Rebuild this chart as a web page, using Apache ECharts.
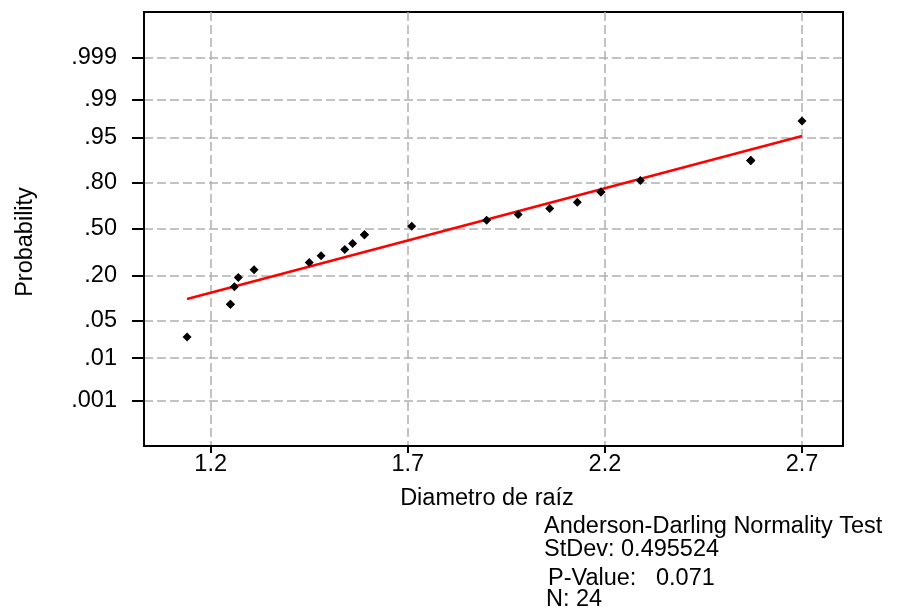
<!DOCTYPE html>
<html>
<head>
<meta charset="utf-8">
<script src="https://cdn.jsdelivr.net/npm/echarts@6/dist/echarts.min.js"></script>
<style>
  html, body { margin: 0; padding: 0; background: #fff; }
  #chart { width: 900px; height: 616px; }
</style>
</head>
<body>
<div id="chart"></div>
<script>
// Root diameter measurements (n = 24)
const diametro = [1.14, 1.25, 1.25, 1.26, 1.27, 1.31, 1.45, 1.48, 1.54, 1.56, 1.59, 1.59,
                  1.71, 1.90, 1.98, 2.06, 2.13, 2.19, 2.19, 2.29, 2.57, 2.57, 2.57, 2.70];

// Probability scale ticks
const probTicks  = [0.001, 0.01, 0.05, 0.20, 0.50, 0.80, 0.95, 0.99, 0.999];
const probLabels = ['.001', '.01', '.05', '.20', '.50', '.80', '.95', '.99', '.999'];

// Diameter ticks
const xTicks = [1.2, 1.7, 2.2, 2.7];

// Fitted normal line endpoints (diameter, cumulative probability)
const fitX    = [1.14, 2.70];
const fitProb = [0.1036, 0.9531];

// Summary statistics
const statLines = ['Anderson-Darling Normality Test', 'StDev: 0.495524', 'P-Value:   0.071', 'N: 24'];

// Inverse standard normal CDF (Acklam's rational approximation)
function invNorm(p) {
  const a = [-3.969683028665376e+01, 2.209460984245205e+02, -2.759285104469687e+02, 1.383577518672690e+02, -3.066479806614716e+01, 2.506628277459239e+00];
  const b = [-5.447609879822406e+01, 1.615858368580409e+02, -1.556989798598866e+02, 6.680131188771972e+01, -1.328068155288572e+01];
  const c = [-7.784894002430293e-03, -3.223964580411365e-01, -2.400758277161838e+00, -2.549732539343734e+00, 4.374664141464968e+00, 2.938163982698783e+00];
  const d = [7.784695709041462e-03, 3.224671290700398e-01, 2.445134137142996e+00, 3.754408661907416e+00];
  const pl = 0.02425, ph = 1 - pl;
  let q, r;
  if (p < pl) {
    q = Math.sqrt(-2 * Math.log(p));
    return (((((c[0]*q+c[1])*q+c[2])*q+c[3])*q+c[4])*q+c[5]) / ((((d[0]*q+d[1])*q+d[2])*q+d[3])*q+1);
  }
  if (p > ph) {
    q = Math.sqrt(-2 * Math.log(1 - p));
    return -(((((c[0]*q+c[1])*q+c[2])*q+c[3])*q+c[4])*q+c[5]) / ((((d[0]*q+d[1])*q+d[2])*q+d[3])*q+1);
  }
  q = p - 0.5; r = q * q;
  return (((((a[0]*r+a[1])*r+a[2])*r+a[3])*r+a[4])*r+a[5])*q / (((((b[0]*r+b[1])*r+b[2])*r+b[3])*r+b[4])*r+1);
}

// Plotting positions: (rank - 3/8) / (n + 1/4), tied values share the mean rank
const sorted = diametro.slice().sort((u, v) => u - v);
const n = sorted.length;
const points = [];
for (let i = 0; i < n; ) {
  let j = i;
  while (j + 1 < n && sorted[j + 1] === sorted[i]) j++;
  const rank = (i + 1 + j + 1) / 2;
  const z = invNorm((rank - 0.375) / (n + 0.25));
  for (let k = i; k <= j; k++) points.push([sorted[k], z]);
  i = j + 1;
}

const zTicks = probTicks.map(invNorm);
const fitLine = fitX.map((x, i) => [x, invNorm(fitProb[i])]);

const FONT = "'Liberation Sans', Arial, sans-serif";
const FS = 23.5;
const gridLine = { show: true, lineStyle: { color: '#b0b0b0', width: 1.5, type: [9, 4] } };

const chart = echarts.init(document.getElementById('chart'), null, { renderer: 'canvas' });
chart.setOption({
  animation: false,
  backgroundColor: '#fff',
  grid: { left: 144, top: 12, right: 57, bottom: 170, show: true, borderColor: '#000', borderWidth: 2, backgroundColor: 'transparent' },
  xAxis: {
    type: 'value',
    min: 1.0308, max: 2.804,
    axisLine: { show: true, onZero: false, lineStyle: { color: '#000', width: 2 } },
    axisTick: { show: true, length: 7, customValues: xTicks, lineStyle: { color: '#000', width: 2 } },
    axisLabel: { customValues: xTicks, margin: 7, color: '#000', fontSize: FS, fontFamily: FONT,
                 formatter: v => v.toFixed(1) },
    splitLine: gridLine
  },
  yAxis: {
    type: 'value',
    min: -3.91, max: 3.91,
    axisLine: { show: true, onZero: false, lineStyle: { color: '#000', width: 2 } },
    axisTick: { show: true, length: 12, customValues: zTicks, lineStyle: { color: '#000', width: 2 } },
    axisLabel: { customValues: zTicks, margin: 27, color: '#000', fontSize: FS, fontFamily: FONT,
                 formatter: v => {
                   let best = 0;
                   zTicks.forEach((t, i) => { if (Math.abs(t - v) < Math.abs(zTicks[best] - v)) best = i; });
                   return probLabels[best];
                 } },
    splitLine: gridLine
  },
  series: [
    {
      type: 'line',
      data: fitLine,
      symbol: 'none',
      lineStyle: { color: '#ff0000', width: 2.5 },
      z: 2
    },
    {
      type: 'scatter',
      data: points,
      symbol: 'diamond',
      symbolSize: 9,
      itemStyle: { color: '#000', opacity: 1 },
      z: 3
    }
  ],
  graphic: [
    { type: 'text', x: 26, y: 242, rotation: Math.PI / 2,
      style: { text: 'Probability', fill: '#000', font: FS + 'px ' + FONT, textAlign: 'center', textVerticalAlign: 'middle' } },
    { type: 'text', x: 487, y: 499,
      style: { text: 'Diametro de raíz', fill: '#000', font: FS + 'px ' + FONT, textAlign: 'center', textVerticalAlign: 'middle' } },
    { type: 'text', x: 544, y: 527,
      style: { text: statLines[0], fill: '#000', font: FS + 'px ' + FONT, textAlign: 'left', textVerticalAlign: 'middle' } },
    { type: 'text', x: 544, y: 550,
      style: { text: statLines[1], fill: '#000', font: FS + 'px ' + FONT, textAlign: 'left', textVerticalAlign: 'middle' } },
    { type: 'text', x: 548, y: 579,
      style: { text: statLines[2], fill: '#000', font: FS + 'px ' + FONT, textAlign: 'left', textVerticalAlign: 'middle' } },
    { type: 'text', x: 546, y: 600,
      style: { text: statLines[3], fill: '#000', font: FS + 'px ' + FONT, textAlign: 'left', textVerticalAlign: 'middle' } }
  ]
});
</script>
</body>
</html>
